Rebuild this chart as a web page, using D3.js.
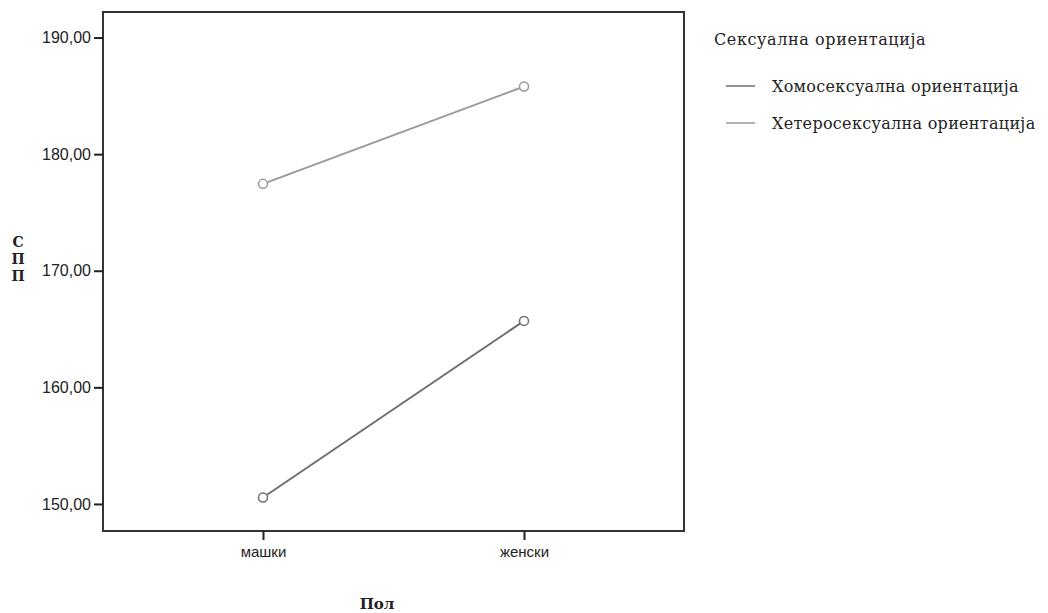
<!DOCTYPE html>
<html><head><meta charset="utf-8">
<script src="https://cdn.jsdelivr.net/npm/d3@7"></script>
<style>body{margin:0;background:#fff}</style>
</head><body>
<svg id="c" width="1048" height="613"></svg>
<script>
const categories = ["машки", "женски"];
const seriesNames = ["Хомосексуална ориентација", "Хетеросексуална ориентација"];
const homoValues = [150.55, 165.7];
const heteroValues = [177.45, 185.8];
const yTicks = [150, 160, 170, 180, 190];
const legendTitle = "Сексуална ориентација";
const xTitle = "Пол";
const yTitle = "СПП";

const svg = d3.select("#c");
const L = 103, T = 12, R = 684, B = 531;
const x = d3.scalePoint().domain(categories).range([L, R]).padding(0.613);
const y = d3.scaleLinear().domain([147.68, 192.19]).range([B, T]);

const series = [
  {name: seriesNames[0], values: homoValues, color: "#6e6e6e"},
  {name: seriesNames[1], values: heteroValues, color: "#9a9a9a"}
];

// frame
svg.append("rect").attr("x", L).attr("y", T).attr("width", R - L).attr("height", B - T)
  .attr("fill", "none").attr("stroke", "#333").attr("stroke-width", 2);

// y axis
const ya = svg.append("g").attr("transform", `translate(${L},0)`)
  .call(d3.axisLeft(y).tickValues(yTicks).tickSize(9).tickPadding(3).tickFormat(d => d3.format(".2f")(d).replace(".", ",")));
ya.select(".domain").remove();
ya.selectAll("line").attr("stroke", "#222").attr("stroke-width", 2);
ya.selectAll("text").attr("font-family", "Arial, 'Liberation Sans', sans-serif").attr("font-size", 16).attr("fill", "#222");

// x axis
const xa = svg.append("g").attr("transform", `translate(0,${B})`)
  .call(d3.axisBottom(x).tickSize(9).tickPadding(6));
xa.select(".domain").remove();
xa.selectAll("line").attr("stroke", "#222").attr("stroke-width", 2);
xa.selectAll("text").attr("font-family", "Arial, 'Liberation Sans', sans-serif").attr("font-size", 15).attr("fill", "#222");

// lines
const line = d3.line().x((d, i) => x(categories[i])).y(d => y(d));
series.forEach(s => {
  svg.append("path").datum(s.values).attr("d", line).attr("fill", "none")
    .attr("stroke", s.color).attr("stroke-width", 2);
  svg.selectAll(null).data(s.values).enter().append("circle")
    .attr("cx", (d, i) => x(categories[i])).attr("cy", d => y(d)).attr("r", 4.5)
    .attr("fill", "#fff").attr("stroke", s.color).attr("stroke-width", 1.5);
});

// legend
const serif = "'DejaVu Serif', serif";
svg.append("text").attr("x", 714).attr("y", 45).text(legendTitle)
  .attr("font-family", serif).attr("font-size", 16).attr("letter-spacing", 0.6).attr("fill", "#222");
series.forEach((s, i) => {
  const ly = 86 + i * 37;
  svg.append("line").attr("x1", 726).attr("x2", 755).attr("y1", ly).attr("y2", ly)
    .attr("stroke", s.color).attr("stroke-width", 1.5);
  svg.append("text").attr("x", 772).attr("y", ly + 6).text(s.name)
    .attr("font-family", serif).attr("font-size", 16).attr("letter-spacing", 0.3).attr("fill", "#222");
});

// axis titles
svg.append("text").attr("x", 377).attr("y", 609).attr("text-anchor", "middle").text(xTitle)
  .attr("font-family", serif).attr("font-weight", "bold").attr("font-size", 15).attr("fill", "#222");
Array.from(yTitle).forEach((ch, i) => {
  svg.append("text").attr("font-family", serif).attr("font-weight", "bold").attr("font-size", 14)
    .attr("fill", "#222").attr("text-anchor", "middle")
    .attr("x", 18).attr("y", 247 + i * 17).text(ch);
});
</script>
</body></html>
